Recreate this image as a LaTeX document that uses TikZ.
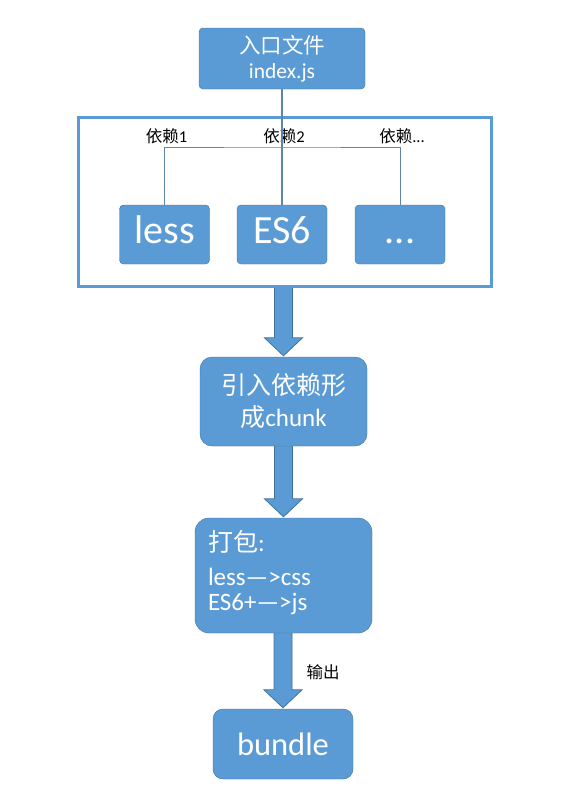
\documentclass[tikz,border=0pt]{standalone}
\usepackage{fontspec}
\setmainfont{Carlito}
\newfontfamily\cjk{Noto Sans CJK SC}
\usetikzlibrary{calc,backgrounds}
\definecolor{boxblue}{HTML}{5B9BD5}
\definecolor{edgeblue}{HTML}{41719C}
\begin{document}
\begin{tikzpicture}[x=1pt, y=1pt,
   box/.style = {draw=edgeblue, fill=boxblue, text=white, rounded corners=4pt, inner sep=0pt, align=center},
   dep/.style = {text=black, inner sep=0pt, font=\fontsize{16.5}{18}\selectfont},
   link/.style = {draw=edgeblue!85, line width=0.9pt},
   fat/.style = {draw=edgeblue, fill=boxblue, line width=0.8pt}]
\useasboundingbox (0,0) rectangle (566,-788);

\node[box, minimum width=166, minimum height=61, font=\fontsize{21.5}{25}\selectfont] (entry) at (282,-58.5) {{\cjk 入口文件}\\index.js};
\node[draw=boxblue, line width=3pt, minimum width=413, minimum height=169] (frame) at (284.5,-201.5) {};

\foreach \n/\t/\x/\d in {less/less/164.5/1, es6/ES6/282/2, dots/{...}/400/{...}}{
   \node[box, minimum width=90, minimum height=59, font=\fontsize{40}{44}\selectfont] (\n) at (\x,-234.5) {\strut\t};
   \node[dep, anchor=base] (dep\n) at (\x+2,-142) {{\cjk 依赖}\d};
   }

\coordinate (hub) at (282,-147);
\draw[link, line width=1.5pt] (entry.south) -- (es6.north);
\draw[link] (less.north) |- (hub) -| (dots.north);

\node[box, rounded corners=12pt, minimum width=167, minimum height=89, font=\fontsize{25}{32}\selectfont] (chunk) at (283.5,-401.5) {{\cjk 引入依赖形}\\{\cjk 成}chunk};
\node[box, rounded corners=14pt, minimum width=177, minimum height=115, text width=151, align=left, font=\fontsize{25}{25}\selectfont] (pack) at (283.5,-575.5) {{\cjk 打包}:\\[9pt]less—>css\\ES6+—>js\rule[-10pt]{0pt}{10pt}};
\node[box, rounded corners=10pt, minimum width=140, minimum height=70, font=\fontsize{32.5}{36}\selectfont] (bundle) at (283,-744) {bundle};
\node[dep] (out) at (323,-672) {\cjk 输出};

% block arrows behind the boxes
\begin{scope}[on background layer]
\foreach \a/\b in {frame/chunk, chunk/pack, pack/bundle}
   \draw[fat] ($(\b.north |- \a.south)+(-9,0)$) -- ($(\b.north)+(-9,19)$) -- ($(\b.north)+(-19,19)$) -- ($(\b.north)+(0,1)$)
      -- ($(\b.north)+(19,19)$) -- ($(\b.north)+(9,19)$) -- ($(\b.north |- \a.south)+(9,0)$);
\end{scope}
\end{tikzpicture}
\end{document}
